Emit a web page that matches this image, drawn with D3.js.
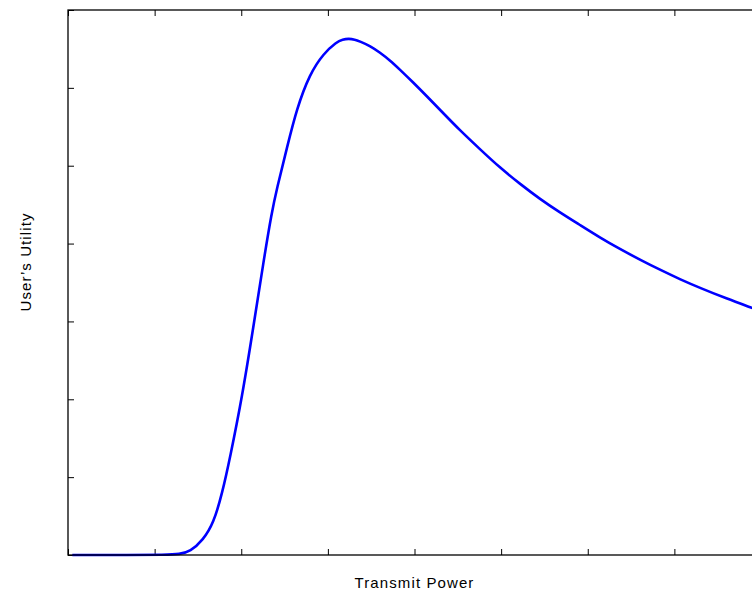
<!DOCTYPE html>
<html>
<head>
<meta charset="utf-8">
<script src="https://cdn.jsdelivr.net/npm/d3@7"></script>
<style>
  html, body { margin: 0; padding: 0; background: #fff; }
  svg { display: block; }
  text { font-family: "Liberation Sans", Arial, Helvetica, sans-serif; fill: #000; }
</style>
</head>
<body>
<svg id="chart" width="752" height="596"></svg>
<script>
// Transmit power samples and the resulting user utility
const power = [0.05, 0.72, 1.12, 1.29, 1.41, 1.56, 1.68, 1.78, 1.87, 2.01, 2.14, 2.26, 2.35, 2.41,
               2.53, 2.64, 2.79, 2.95, 3.10, 3.17, 3.24, 3.31, 3.37, 3.49, 3.60, 3.72, 3.83, 3.98, 4.14,
               4.33, 4.52, 4.76, 4.99, 5.22, 5.45, 5.68, 5.91, 6.14, 6.37, 6.61, 6.84, 7.07,
               7.30, 7.60, 7.90, 8.00];
const utility = [0, 0, 0.003, 0.010, 0.042, 0.193, 0.407, 0.792, 1.246, 2.029, 2.928, 3.789, 4.389, 4.701,
                 5.240, 5.729, 6.178, 6.441, 6.589, 6.622, 6.632, 6.622, 6.595, 6.538, 6.454, 6.351, 6.236, 6.075, 5.895,
                 5.677, 5.459, 5.208, 4.971, 4.765, 4.571, 4.399, 4.239, 4.078, 3.930, 3.789, 3.660, 3.539,
                 3.429, 3.295, 3.172, 3.130];

// Tick positions (unlabelled)
const xTicks = [0, 1, 2, 3, 4, 5, 6, 7, 8];
const yTicks = [0, 1, 2, 3, 4, 5, 6, 7];

const xLabel = "Transmit Power";
const yLabel = "User\u2019s Utility";

const margin = { left: 68, top: 10, right: 761, bottom: 555 };

const svg = d3.select("#chart");

const x = d3.scaleLinear().domain([0, 8]).range([margin.left, margin.right]);
const y = d3.scaleLinear().domain([0, 7]).range([margin.bottom, margin.top]);

const tickLen = 6;

// Axes with inward ticks on all four sides
const axisStyle = g => {
  g.selectAll("text").remove();
  g.select(".domain").remove();
  g.selectAll("line").attr("stroke", "#000").attr("stroke-width", 1);
};

svg.append("g")
  .attr("transform", `translate(0,${margin.bottom})`)
  .call(d3.axisBottom(x).tickValues(xTicks).tickSize(-tickLen).tickFormat(""))
  .call(axisStyle);
svg.append("g")
  .attr("transform", `translate(0,${margin.top})`)
  .call(d3.axisTop(x).tickValues(xTicks).tickSize(-tickLen).tickFormat(""))
  .call(axisStyle);
svg.append("g")
  .attr("transform", `translate(${margin.left},0)`)
  .call(d3.axisLeft(y).tickValues(yTicks).tickSize(-tickLen).tickFormat(""))
  .call(axisStyle);
svg.append("g")
  .attr("transform", `translate(${margin.right},0)`)
  .call(d3.axisRight(y).tickValues(yTicks).tickSize(-tickLen).tickFormat(""))
  .call(axisStyle);

// Utility curve, drawn as a smooth B-spline through the samples
const pts = power.map((p, i) => [p, utility[i]]);
const line = d3.line()
  .x(d => x(d[0]))
  .y(d => y(d[1]))
  .curve(d3.curveBasis);

svg.append("path")
  .datum(pts)
  .attr("fill", "none")
  .attr("stroke", "#0000ff")
  .attr("stroke-width", 2.6)
  .attr("stroke-linejoin", "round")
  .attr("d", line);

// Plot box
svg.append("rect")
  .attr("x", margin.left)
  .attr("y", margin.top)
  .attr("width", margin.right - margin.left)
  .attr("height", margin.bottom - margin.top)
  .attr("fill", "none")
  .attr("stroke", "#000")
  .attr("stroke-width", 1.3);

// Axis titles
svg.append("text")
  .attr("x", x(4))
  .attr("y", 588)
  .attr("text-anchor", "middle")
  .attr("font-size", 15)
  .attr("letter-spacing", 1.1)
  .text(xLabel);

svg.append("text")
  .attr("transform", "translate(31,262) rotate(-90)")
  .attr("text-anchor", "middle")
  .attr("font-size", 15)
  .attr("letter-spacing", 1.1)
  .text(yLabel);
</script>
</body>
</html>
